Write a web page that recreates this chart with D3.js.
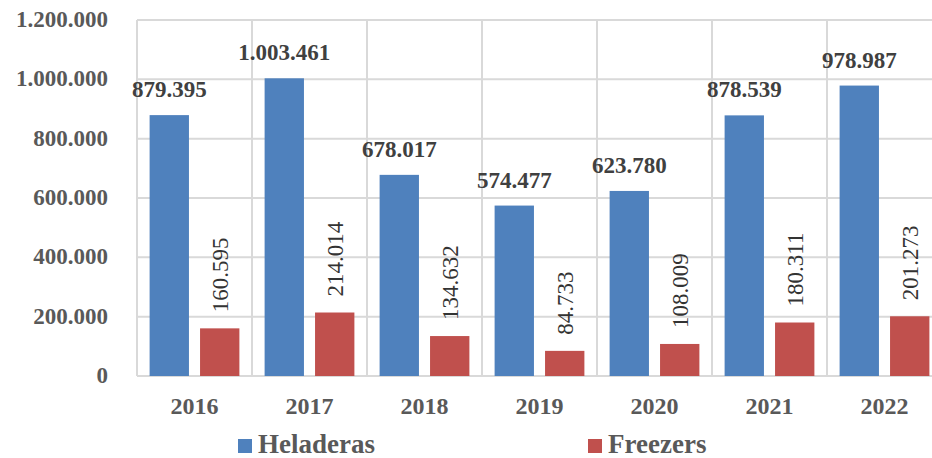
<!DOCTYPE html>
<html>
<head>
<meta charset="utf-8">
<script src="https://cdn.jsdelivr.net/npm/d3@7"></script>
<style>
  body { margin: 0; background: #fff; }
  text { font-family: "Liberation Serif", "DejaVu Serif", serif; }
</style>
</head>
<body>
<div id="chart"></div>
<script>
var years = ["2016", "2017", "2018", "2019", "2020", "2021", "2022"];
var heladeras = [879395, 1003461, 678017, 574477, 623780, 878539, 978987];
var freezers = [160595, 214014, 134632, 84733, 108009, 180311, 201273];
var yTicks = [0, 200000, 400000, 600000, 800000, 1000000, 1200000];
var seriesNames = ["Heladeras", "Freezers"];

var width = 932, height = 458;
var plotLeft = 137, plotRight = 942, plotTop = 20, plotBottom = 376;
var blue = "#4F81BD", red = "#C0504D";

var loc = d3.formatLocale({decimal: ",", thousands: ".", grouping: [3], currency: ["", ""]});
var fmt = loc.format(",d");

var svg = d3.select("#chart").append("svg")
  .attr("width", width)
  .attr("height", height);

var x = d3.scaleBand().domain(years).range([plotLeft, plotRight]).padding(0);
var inner = d3.scaleBand().domain([0, 1]).range([0, x.bandwidth()])
  .paddingInner(0.22).paddingOuter(0.25);
var y = d3.scaleLinear().domain([0, 1200000]).range([plotBottom, plotTop]);

// horizontal gridlines
svg.selectAll(".hgrid")
  .data(yTicks)
  .enter().append("line")
  .attr("x1", plotLeft).attr("x2", plotRight)
  .attr("y1", function(d) { return y(d); })
  .attr("y2", function(d) { return y(d); })
  .attr("stroke", "#D9D9D9").attr("stroke-width", 2);

// vertical gridlines at category edges
svg.selectAll(".vgrid")
  .data(years.concat(["end"]))
  .enter().append("line")
  .attr("x1", function(d, i) { return plotLeft + i * x.bandwidth(); })
  .attr("x2", function(d, i) { return plotLeft + i * x.bandwidth(); })
  .attr("y1", plotTop).attr("y2", plotBottom)
  .attr("stroke", "#D9D9D9").attr("stroke-width", 2);

// y axis labels
svg.selectAll(".ylab")
  .data(yTicks)
  .enter().append("text")
  .attr("x", 108)
  .attr("y", function(d) { return y(d) + 7; })
  .attr("text-anchor", "end")
  .attr("font-size", 23)
  .attr("font-weight", "bold")
  .attr("fill", "#595959")
  .text(function(d) { return fmt(d); });

// bars
var groups = svg.selectAll(".yr")
  .data(years)
  .enter().append("g")
  .attr("transform", function(d) { return "translate(" + x(d) + ",0)"; });

groups.append("rect")
  .attr("x", inner(0))
  .attr("width", inner.bandwidth())
  .attr("y", function(d, i) { return y(heladeras[i]); })
  .attr("height", function(d, i) { return plotBottom - y(heladeras[i]); })
  .attr("fill", blue);

groups.append("rect")
  .attr("x", inner(1))
  .attr("width", inner.bandwidth())
  .attr("y", function(d, i) { return y(freezers[i]); })
  .attr("height", function(d, i) { return plotBottom - y(freezers[i]); })
  .attr("fill", red);

// data labels
groups.append("text")
  .attr("x", inner(0) + inner.bandwidth() / 2)
  .attr("y", function(d, i) { return y(heladeras[i]) - 18; })
  .attr("text-anchor", "middle")
  .attr("font-size", 23)
  .attr("font-weight", "bold")
  .attr("fill", "#404040")
  .text(function(d, i) { return fmt(heladeras[i]); });

groups.append("text")
  .attr("transform", function(d, i) {
    return "translate(" + (inner(1) + inner.bandwidth() / 2 + 8) + "," + (y(freezers[i]) - 16) + ") rotate(-90)";
  })
  .attr("text-anchor", "start")
  .attr("font-size", 23)
  .attr("fill", "#333333")
  .text(function(d, i) { return fmt(freezers[i]); });

// x axis labels
groups.append("text")
  .attr("x", x.bandwidth() / 2)
  .attr("y", 414)
  .attr("text-anchor", "middle")
  .attr("font-size", 24)
  .attr("font-weight", "bold")
  .attr("fill", "#595959")
  .text(function(d) { return d; });

// legend
var legX = [238, 588];
var leg = svg.selectAll(".leg")
  .data(seriesNames)
  .enter().append("g")
  .attr("transform", function(d, i) { return "translate(" + legX[i] + ",439)"; });
leg.append("rect")
  .attr("width", 14).attr("height", 14)
  .attr("fill", function(d, i) { return i == 0 ? blue : red; });
leg.append("text")
  .attr("x", 20).attr("y", 14)
  .attr("font-size", 27)
  .attr("font-weight", "bold")
  .attr("fill", "#595959")
  .text(function(d) { return d; });
</script>
</body>
</html>
